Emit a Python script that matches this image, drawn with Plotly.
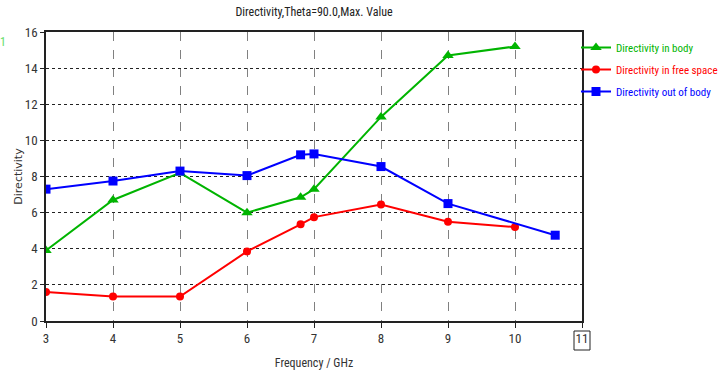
import plotly.graph_objects as go

# Directivity (Theta = 90.0, max. value) versus frequency
freq_body = [3, 4, 5, 6, 6.8, 7, 8, 9, 10]
dir_body = [3.9, 6.7, 8.2, 6.0, 6.85, 7.3, 11.3, 14.7, 15.2]

freq_free = [3, 4, 5, 6, 6.8, 7, 8, 9, 10]
dir_free = [1.6, 1.35, 1.35, 3.85, 5.35, 5.75, 6.45, 5.5, 5.2]

freq_out = [3, 4, 5, 6, 6.8, 7, 8, 9, 10.6]
dir_out = [7.3, 7.75, 8.3, 8.05, 9.2, 9.25, 8.55, 6.5, 4.75]

x_ticks = [3, 4, 5, 6, 7, 8, 9, 10, 11]
y_ticks = [0, 2, 4, 6, 8, 10, 12, 14, 16]

GREEN = "#00b400"
RED = "#ff0000"
BLUE = "#0000ff"

NARROW = "Roboto Condensed, DejaVu Sans Condensed, sans-serif"
WIDE = "DejaVu Sans, Verdana, sans-serif"

L, R, T, B = 46, 139, 32, 55
W, H = 721, 376
PW, PH = W - L - R, H - T - B

series = [
    ("Directivity in body", freq_body, dir_body, GREEN, "triangle-up", 10),
    ("Directivity in free space", freq_free, dir_free, RED, "circle", 8),
    ("Directivity out of body", freq_out, dir_out, BLUE, "square", 9),
]

fig = go.Figure()
for name, xs, ys, color, symbol, size in series:
    fig.add_trace(go.Scatter(
        x=xs, y=ys, mode="lines+markers", legendgroup=name,
        name=f"<span style='color:{color}'>{name}</span>",
        line=dict(color=color, width=2),
        marker=dict(symbol=symbol, size=size, color=color),
    ))

fig.update_layout(
    width=W, height=H,
    margin=dict(l=L, r=R, t=T, b=B, autoexpand=False),
    paper_bgcolor="white", plot_bgcolor="white",
    font=dict(family=NARROW, size=12, color="#333333"),
    title=dict(text="Directivity,Theta=90.0,Max. Value", x=(L + PW / 2) / W,
               xanchor="center", y=1 - 12 / H, yanchor="middle",
               font=dict(family=NARROW, size=12, color="#222222")),
    showlegend=True,
    legend=dict(x=(576 - L) / PW, xanchor="left", y=1 - 1 / PH, yanchor="top",
                font=dict(family=NARROW, size=11), tracegroupgap=3,
                bgcolor="rgba(0,0,0,0)", itemwidth=30),
)

fig.update_xaxes(
    range=[3, 11], tickvals=x_ticks, ticktext=[str(v) for v in x_ticks],
    showline=True, linecolor="#222222", linewidth=1.5, mirror=True,
    showgrid=True, gridcolor="#808080", griddash="dash", gridwidth=1,
    ticks="outside", ticklen=5, tickcolor="#222222",
    tickfont=dict(family=NARROW, size=13, color="#333333"),
    title=dict(text="Frequency / GHz", standoff=13,
               font=dict(family=NARROW, size=12, color="#333333")),
    zeroline=False,
)
fig.update_yaxes(
    range=[0, 16], tickvals=y_ticks,
    showline=True, linecolor="#222222", linewidth=1.5, mirror=True,
    showgrid=True, gridcolor="#222222", griddash="dot", gridwidth=1,
    ticks="outside", ticklen=4, tickcolor="#222222",
    tickfont=dict(family=NARROW, size=13, color="#333333"),
    title=dict(text="Directivity", standoff=0,
               font=dict(family=WIDE, size=11, color="#333333")),
    zeroline=False,
)

# box around the last frequency tick label
fig.add_shape(type="rect", xref="paper", yref="paper",
              x0=(574 - L) / PW, x1=(590 - L) / PW, y0=-29 / PH, y1=-10 / PH,
              line=dict(color="#222222", width=1), fillcolor="rgba(0,0,0,0)")

# stray marker label at the left edge
fig.add_annotation(text="1", xref="paper", yref="paper", x=-(L - 3) / PW, y=1 - 10 / PH,
                   xanchor="center", yanchor="middle", showarrow=False,
                   font=dict(family=NARROW, size=12, color="#66dd66"))

fig.write_html("out.html")
